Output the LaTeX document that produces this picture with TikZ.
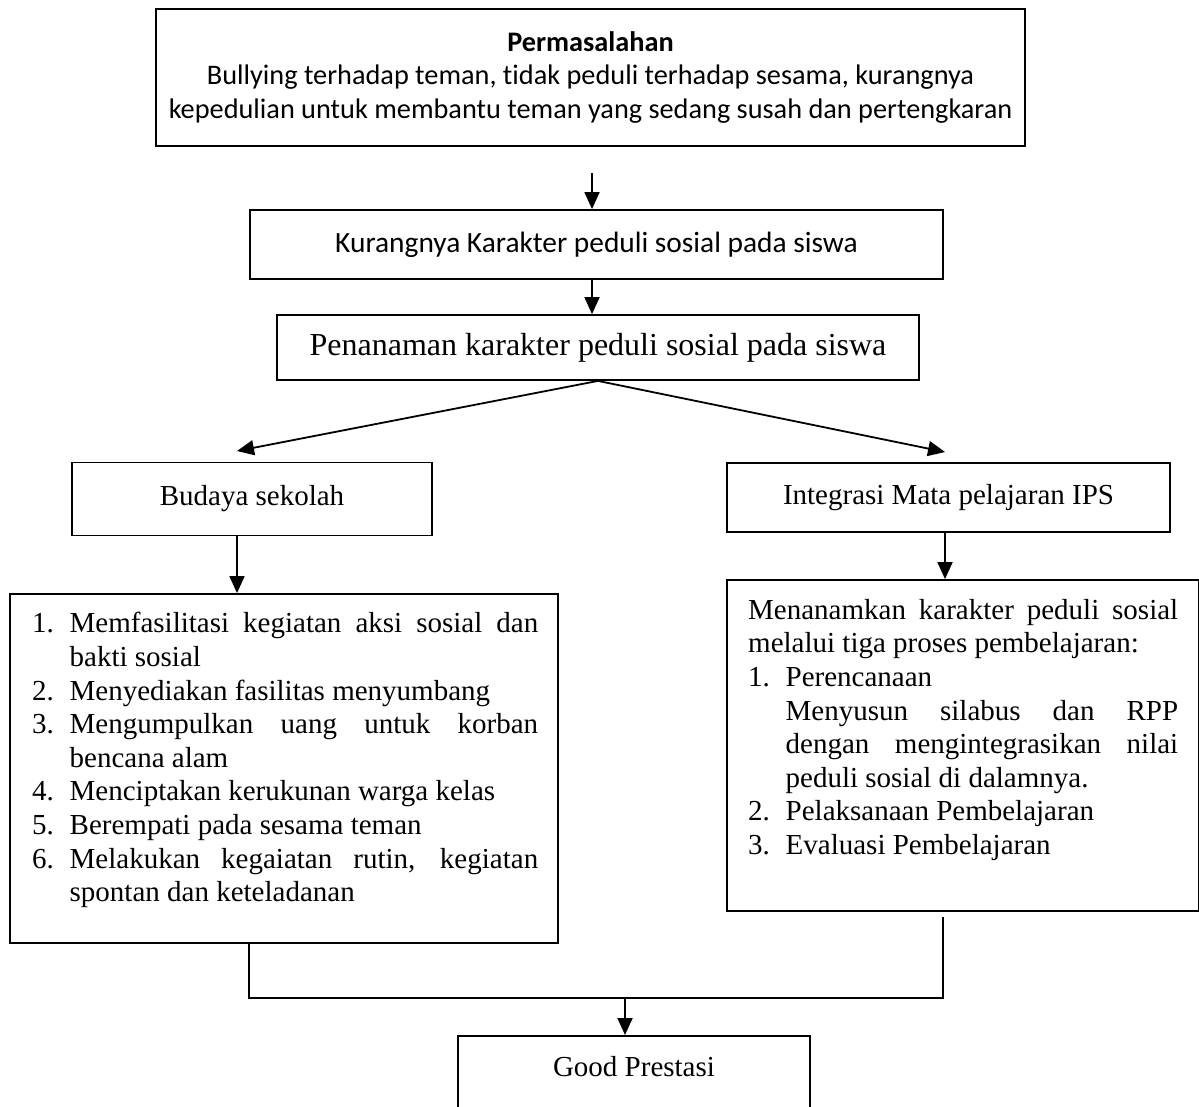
\documentclass[tikz,border=0pt]{standalone}
\usepackage{fontspec}
\setmainfont{Liberation Serif}
\newfontfamily\calibfont[RawFeature={-liga;-clig;-calt}]{Carlito}
\usetikzlibrary{arrows.meta}

\hyphenpenalty=10000
\exhyphenpenalty=10000
\tolerance=10000

\newlength{\butirindent}
\setlength{\butirindent}{37.5pt}
\newcommand{\butir}[2]{\par\noindent\hangindent=\butirindent\hangafter=1\makebox[\butirindent][l]{#1}#2}
\newcommand{\masuk}[1]{\par\noindent\hangindent=\butirindent\hangafter=0 #1}

\tikzset{
  box/.style={draw, line width=1.8pt, inner sep=0pt},
  calib/.style={font=\calibfont\fontsize{28.3}{33.5}\selectfont, align=center},
  serif/.style={font=\fontsize{29}{33.6}\selectfont},
  arr/.style={-{Triangle[length=17pt,width=15pt]}, line width=1.8pt},
  link/.style={line width=1.8pt},
}

\begin{document}
\begin{tikzpicture}[x=1pt,y=-1pt]
\useasboundingbox (0,0) rectangle (1199,1106);

% kotak utama
\node[box,calib,minimum width=869pt,minimum height=137pt] (masalah) at (590.5,77.5)
  {\textbf{Permasalahan}\\Bullying terhadap teman, tidak peduli terhadap sesama, kurangnya\\kepedulian untuk membantu teman yang sedang susah dan pertengkaran};
\node[box,calib,font=\calibfont\fontsize{29.4}{33.5}\selectfont,minimum width=693pt,minimum height=69pt] (kurang) at (596.5,244.5)
  {Kurangnya Karakter peduli sosial pada siswa};
\node[box,serif,font=\fontsize{32}{36}\selectfont,minimum width=642pt,minimum height=65pt] (tanam) at (598,347.5)
  {Penanaman karakter peduli sosial pada siswa};

% dua cabang
\node[box,serif,minimum width=360pt,minimum height=73pt] (budaya) at (252,499)
  {Budaya sekolah};
\node[box,serif,minimum width=443pt,minimum height=69pt] (integ) at (948.5,497.5)
  {Integrasi Mata pelajaran IPS};

\node[box,minimum width=548pt,minimum height=349pt] (lbox) at (284,768.5) {};
\node[box,minimum width=472pt,minimum height=331pt] (rbox) at (963,745.5) {};

\node[serif,anchor=north west,text width=506pt,align=justify,inner sep=0pt] (ltext) at (32,599)
  {\butir{1.}{Memfasilitasi kegiatan aksi sosial dan\linebreak bakti sosial}
   \butir{2.}{Menyediakan fasilitas menyumbang}
   \butir{3.}{Mengumpulkan uang untuk korban\linebreak bencana alam}
   \butir{4.}{Menciptakan kerukunan warga kelas}
   \butir{5.}{Berempati pada sesama teman}
   \butir{6.}{Melakukan kegaiatan rutin, kegiatan\linebreak spontan dan keteladanan}\par};
\node[serif,anchor=north west,text width=430pt,align=justify,inner sep=0pt] (rtext) at (748,599)
  {\noindent Menanamkan karakter peduli sosial\linebreak melalui tiga proses pembelajaran:
   \butir{1.}{Perencanaan}
   \masuk{Menyusun silabus dan RPP\linebreak dengan mengintegrasikan nilai\linebreak peduli sosial di dalamnya.}
   \butir{2.}{Pelaksanaan Pembelajaran}
   \butir{3.}{Evaluasi Pembelajaran}\par};

% hasil
\node[box,anchor=north,minimum width=352pt,minimum height=140pt] (prestasi) at (634,1035) {};
\node[serif] (prestasitext) at (634,1067) {Good Prestasi};

% panah
\coordinate (p1) at (592,173);
\coordinate (kiri) at (237,451);
\coordinate (kanan) at (945,452);
\coordinate (kirib) at (249,998);
\coordinate (gabung) at (943,917);
\coordinate (tengah) at (625,998);

\draw[arr] (p1) -- (p1 |- kurang.north);
\draw[arr] (kurang.south -| p1) -- (p1 |- tanam.north);
\draw[arr] (tanam.south) -- (kiri);
\draw[arr] (tanam.south) -- (kanan);
\draw[arr] (budaya.south -| kiri) -- (kiri |- lbox.north);
\draw[arr] (integ.south -| kanan) -- (kanan |- rbox.north);
\draw[link] (kirib |- lbox.south) -- (kirib) -- (kirib -| gabung) -- (gabung);
\draw[arr] (tengah) -- (tengah |- prestasi.north);
\end{tikzpicture}
\end{document}
